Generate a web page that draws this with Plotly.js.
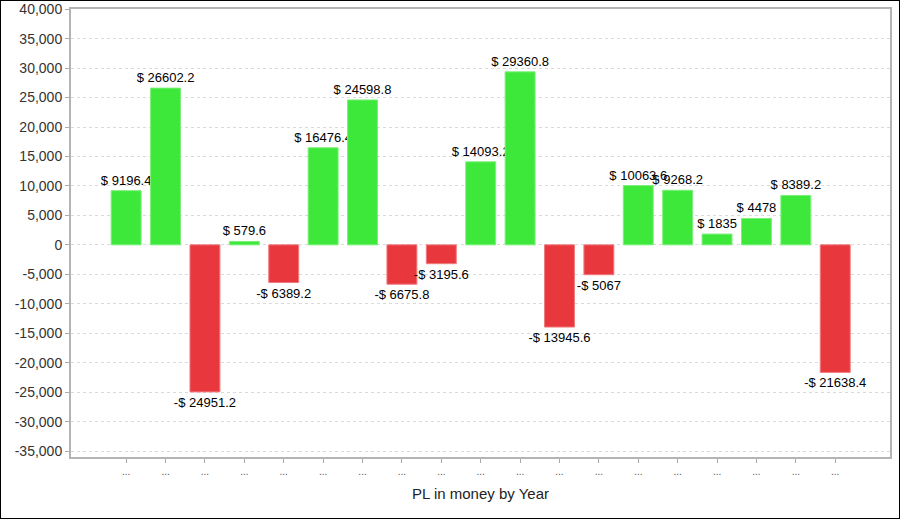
<!DOCTYPE html>
<html>
<head>
<meta charset="utf-8">
<script src="https://cdn.plot.ly/plotly-3.0.1.min.js"></script>
<style>
  html, body { margin: 0; padding: 0; background: #fff; }
  #wrap { width: 900px; height: 519px; box-sizing: border-box; border: 1px solid #000; }
  #chart { width: 898px; height: 517px; }
</style>
</head>
<body>
<div id="wrap"><div id="chart"></div></div>
<script>
// Data
const categories = ["c1","c2","c3","c4","c5","c6","c7","c8","c9","c10","c11","c12","c13","c14","c15","c16","c17","c18","c19"];
const tickLabels = ["...","...","...","...","...","...","...","...","...","...","...","...","...","...","...","...","...","...","..."];
const plValues = [9196.4, 26602.2, -24951.2, 579.6, -6389.2, 16476.4, 24598.8, -6675.8, -3195.6, 14093.2, 29360.8, -13945.6, -5067, 10063.6, 9268.2, 1835, 4478, 8389.2, -21638.4];
const yTickVals = [40000, 35000, 30000, 25000, 20000, 15000, 10000, 5000, 0, -5000, -10000, -15000, -20000, -25000, -30000, -35000];
const yTickText = ["40,000","35,000","30,000","25,000","20,000","15,000","10,000","5,000","0","-5,000","-10,000","-15,000","-20,000","-25,000","-30,000","-35,000"];

const GREEN = '#3de83b';
const RED = '#e8383d';

const xIdx = categories.map((c, i) => i);
const colors = plValues.map(v => v >= 0 ? GREEN : RED);
const lineColors = plValues.map(v => v >= 0 ? '#7cf07a' : '#f07a7e');
const labels = plValues.map(v => (v < 0 ? '-$ ' : '$ ') + Math.abs(v));

const trace = {
  type: 'bar',
  x: xIdx,
  y: plValues,
  width: 0.76,
  marker: { color: colors, line: { color: lineColors, width: 1 } },
  text: labels,
  textposition: 'outside',
  constraintext: 'none',
  cliponaxis: false,
  textfont: { family: 'Liberation Sans, Arial, sans-serif', size: 13, color: '#000' },
  hoverinfo: 'none'
};

const layout = {
  width: 898,
  height: 517,
  margin: { l: 70, r: 9, t: 8, b: 61 },
  paper_bgcolor: '#fff',
  plot_bgcolor: '#fff',
  showlegend: false,
  font: { family: 'Liberation Sans, Arial, sans-serif', color: '#333' },
  xaxis: {
    range: [-1.4, 19.39],
    tickvals: xIdx,
    ticktext: tickLabels,
    ticks: 'outside',
    ticklen: 4,
    tickcolor: '#aaa',
    tickfont: { size: 10, color: '#555' },
    showgrid: false,
    zeroline: false,
    showline: true,
    linecolor: '#b4b4b4',
    linewidth: 2,
    mirror: true,
    title: { text: 'PL in money by Year', font: { size: 15, color: '#222' }, standoff: 12 },
    fixedrange: true
  },
  yaxis: {
    range: [-36000, 40030],
    tickvals: yTickVals,
    ticktext: yTickText,
    ticks: 'outside',
    ticklen: 4,
    tickcolor: '#aaa',
    tickfont: { size: 14, color: '#333' },
    showgrid: true,
    gridcolor: '#dadada',
    griddash: '3px,3px',
    gridwidth: 1,
    zeroline: false,
    showline: true,
    linecolor: '#b4b4b4',
    linewidth: 2,
    mirror: true,
    fixedrange: true
  },
  bargap: 0.24
};

Plotly.newPlot('chart', [trace], layout, { displayModeBar: false, staticPlot: true });
</script>
</body>
</html>
